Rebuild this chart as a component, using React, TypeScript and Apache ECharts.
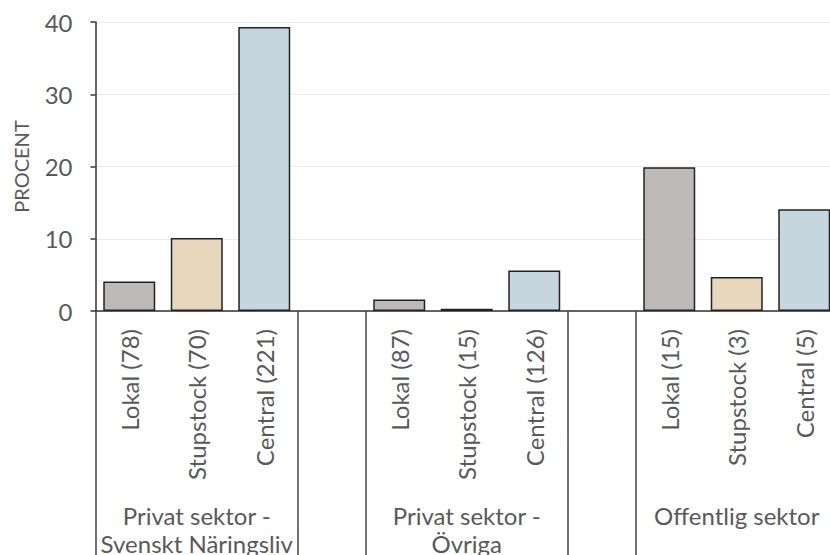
import React, { useEffect, useRef } from "react";
import * as echarts from "echarts";

const groups = ["Privat sektor -\nSvenskt Näringsliv", "Privat sektor -\nÖvriga", "Offentlig sektor"];
const types = ["Lokal", "Stupstock", "Central"];
const counts = [
  [78, 70, 221],
  [87, 15, 126],
  [15, 3, 5],
];
const values = [
  [4.1, 10.1, 39.3],
  [1.6, 0.3, 5.6],
  [19.9, 4.7, 14.1],
];
const typeColors = ["#bdb9b8", "#e9d7bd", "#c6d6de"];
const yMin = 0;
const yMax = 40;
const yInterval = 10;
const yName = "PROCENT";

export default function App() {
  const ref = useRef<HTMLDivElement>(null);
  useEffect(() => {
    if (!ref.current) return;
    const chart = echarts.init(ref.current, null, { renderer: "svg" });

    const cats: string[] = [];
    const labels: string[] = [];
    const groupLabelAt: Record<number, string> = {};
    const boundaries: number[] = [];
    const data: any[] = [];
    groups.forEach((g, gi) => {
      const start = cats.length;
      boundaries.push(start);
      types.forEach((t, ti) => {
        cats.push(`c${gi}_${ti}`);
        labels.push(`${t} (${counts[gi][ti]})`);
        data.push({ value: values[gi][ti], itemStyle: { color: typeColors[ti] } });
      });
      groupLabelAt[start + 1] = g;
      boundaries.push(cats.length);
      if (gi < groups.length - 1) {
        cats.push(`gap${gi}`);
        labels.push("");
        data.push(null);
      }
    });

    const font = "Lato, 'Noto Sans', sans-serif";
    chart.setOption({
      animation: false,
      grid: {
        left: 95.5,
        top: 22,
        bottom: 244,
        right: -8,
        containLabel: false,
        outerBoundsMode: "none",
      },
      xAxis: [
        {
          type: "category",
          data: cats,
          position: "bottom",
          axisLine: { show: true, lineStyle: { color: "#333", width: 1.5 } },
          axisTick: {
            show: true,
            length: 244,
            interval: (i: number) => boundaries.includes(i),
            lineStyle: { color: "#444", width: 1.5 },
          },
          axisLabel: {
            interval: 0,
            rotate: 90,
            margin: 18,
            fontSize: 24,
            fontFamily: font,
            color: "#595959",
            formatter: (_v: string, i: number) => labels[i],
          },
          splitLine: { show: false },
        },
        {
          type: "category",
          data: cats,
          position: "bottom",
          axisLine: { show: false },
          axisTick: { show: false },
          axisLabel: {
            interval: 0,
            margin: 190,
            fontSize: 24,
            lineHeight: 28,
            fontFamily: font,
            color: "#595959",
            formatter: (_v: string, i: number) => groupLabelAt[i] || "",
          },
        },
      ],
      yAxis: {
        type: "value",
        min: yMin,
        max: yMax,
        interval: yInterval,
        name: yName,
        nameLocation: "middle",
        nameGap: 65,
        nameTextStyle: { fontSize: 20, fontFamily: font, color: "#595959" },
        axisLine: { show: true, lineStyle: { color: "#333", width: 1.5 } },
        axisTick: { show: true, length: 5, lineStyle: { color: "#333", width: 1.5 } },
        axisLabel: { fontSize: 24, fontFamily: font, color: "#595959", margin: 23 },
        splitLine: { lineStyle: { color: "#ebebeb", width: 1 } },
      },
      series: [
        {
          type: "bar",
          data,
          barCategoryGap: "23%",
          itemStyle: { borderColor: "#222", borderWidth: 1.5 },
        },
      ],
    });
    return () => chart.dispose();
  }, []);
  return (
    <div
      ref={ref}
      style={{ position: "fixed", left: 0, top: 0, width: 830, height: 555, background: "#fff" }}
    />
  );
}
